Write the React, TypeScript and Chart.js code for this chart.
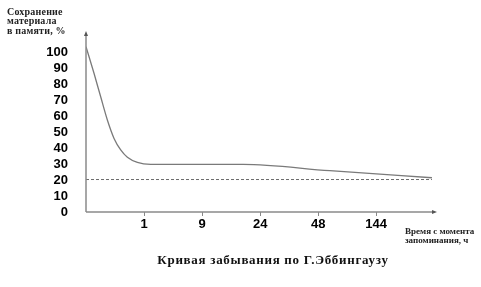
import React, { useEffect, useRef } from "react";
import { Chart, registerables } from "chart.js";

Chart.register(...registerables);

const xTickPositions = [1, 2, 3, 4, 5];
const xTickLabels = ["1", "9", "24", "48", "144"];
const yTickValues = [0, 10, 20, 30, 40, 50, 60, 70, 80, 90, 100];

const curveX = [0, 0.138, 0.253, 0.368, 0.483, 0.598, 0.713, 0.885, 1.115, 2.71, 4.2, 5.96];
const curveY = [103.3, 86.7, 72, 57.5, 46, 38.8, 34.2, 31, 29.8, 29.8, 25.8, 21.4];

const dashedX = [0, 5.96];
const dashedY = [20.3, 20.3];

const yTitleLines = ["Сохранение", "материала", "в памяти, %"];
const xTitleLines = ["Время с момента", "запоминания, ч"];
const chartTitle = "Кривая забывания по Г.Эббингаузу";

const decorPlugin = {
  id: "decor",
  afterDraw(chart: any) {
    const ctx = chart.ctx as CanvasRenderingContext2D;
    const { left, right, top, bottom } = chart.chartArea;
    ctx.save();
    ctx.strokeStyle = "#8a8a8a";
    ctx.fillStyle = "#555";
    ctx.lineWidth = 1.5;
    ctx.beginPath();
    ctx.moveTo(left, bottom);
    ctx.lineTo(left, top + 2);
    ctx.moveTo(left, bottom);
    ctx.lineTo(right - 2, bottom);
    ctx.stroke();
    ctx.beginPath();
    ctx.moveTo(left, top - 1);
    ctx.lineTo(left - 2, top + 4);
    ctx.lineTo(left + 2, top + 4);
    ctx.closePath();
    ctx.fill();
    ctx.beginPath();
    ctx.moveTo(right + 1, bottom);
    ctx.lineTo(right - 4, bottom - 2);
    ctx.lineTo(right - 4, bottom + 2);
    ctx.closePath();
    ctx.fill();

    ctx.fillStyle = "#222";
    ctx.textBaseline = "middle";
    ctx.textAlign = "left";
    ctx.font = "bold 10px 'Liberation Serif'";
    (ctx as any).letterSpacing = "0.2px";
    yTitleLines.forEach((t, i) => ctx.fillText(t, 7, 12 + i * 9.7));

    ctx.font = "bold 9px 'Liberation Serif'";
    (ctx as any).letterSpacing = "0px";
    xTitleLines.forEach((t, i) => ctx.fillText(t, 405, 232 + i * 8.5));

    ctx.textAlign = "center";
    ctx.fillStyle = "#111";
    ctx.font = "bold 13px 'Liberation Serif'";
    (ctx as any).letterSpacing = "0.7px";
    ctx.fillText(chartTitle, 273, 261);
    ctx.restore();
  },
};

export default function App() {
  const ref = useRef<HTMLCanvasElement>(null);
  useEffect(() => {
    if (!ref.current) return;
    const chart = new Chart(ref.current, {
      type: "line",
      data: {
        datasets: [
          {
            data: curveX.map((x, i) => ({ x, y: curveY[i] })),
            borderColor: "#7a7a7a",
            borderWidth: 1.3,
            pointRadius: 0,
            cubicInterpolationMode: "monotone",
            fill: false,
          },
          {
            data: dashedX.map((x, i) => ({ x, y: dashedY[i] })),
            borderColor: "#444",
            borderWidth: 0.8,
            borderDash: [3, 2],
            pointRadius: 0,
            fill: false,
          },
        ],
      },
      options: {
        animation: false,
        responsive: true,
        maintainAspectRatio: false,
        layout: { padding: { left: 0, top: 32, right: 45, bottom: 0 } },
        plugins: { legend: { display: false }, tooltip: { enabled: false }, title: { display: false } },
        scales: {
          x: {
            type: "linear",
            min: 0,
            max: 6.03,
            border: { display: false },
            grid: { drawOnChartArea: false, drawTicks: true, tickLength: 4, color: "#888" },
            afterBuildTicks: (axis: any) => {
              axis.ticks = xTickPositions.map((v) => ({ value: v }));
            },
            afterFit: (axis: any) => {
              axis.height = 75;
            },
            ticks: {
              padding: 1,
              color: "#000",
              font: { family: "'Liberation Sans'", size: 13, weight: "bold" },
              callback: (v: any) => {
                const i = xTickPositions.indexOf(Number(v));
                return i >= 0 ? xTickLabels[i] : "";
              },
              maxRotation: 0,
              autoSkip: false,
            },
          },
          y: {
            type: "linear",
            min: 0,
            max: 112.5,
            border: { display: false },
            grid: { display: false },
            afterBuildTicks: (axis: any) => {
              axis.ticks = yTickValues.map((v) => ({ value: v }));
            },
            afterFit: (axis: any) => {
              axis.width = 86;
            },
            ticks: {
              padding: 10,
              color: "#000",
              font: { family: "'Liberation Sans'", size: 13, weight: "bold" },
              autoSkip: false,
            },
          },
        },
      },
      plugins: [decorPlugin],
    });
    return () => chart.destroy();
  }, []);
  return (
    <div style={{ position: "absolute", left: 0, top: 0, width: 481, height: 287, background: "#fff" }}>
      <canvas ref={ref} />
    </div>
  );
}
